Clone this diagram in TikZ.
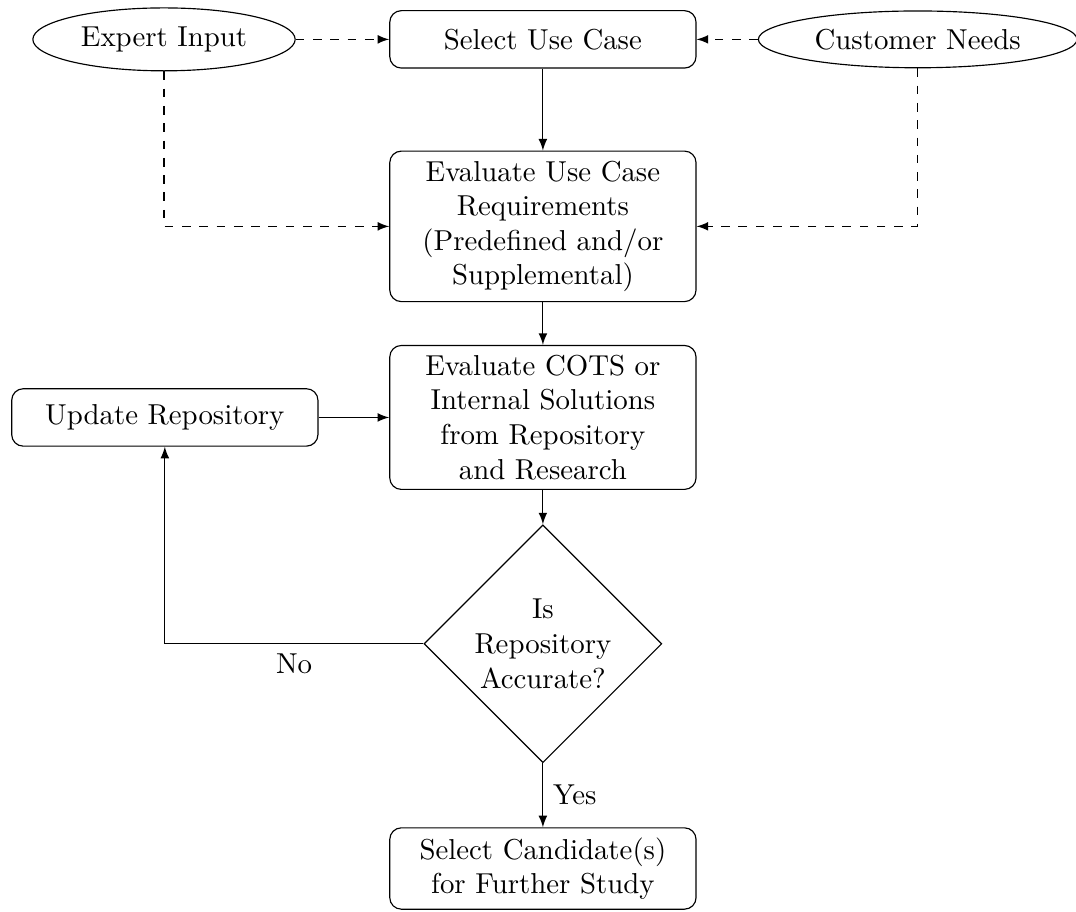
\documentclass[tikz,border=0pt]{standalone}
\usetikzlibrary{shapes.geometric}

\begin{document}
\begin{tikzpicture}[
  procbox/.style={draw, rounded corners, text width=3.5cm, align=center, minimum height=0.7cm},
  inputell/.style={draw, ellipse},
  decision/.style={draw, diamond, aspect=1, inner sep=0pt, minimum size=2.9cm, align=center},
  flow/.style={-latex},
  feed/.style={-latex, dashed}]

  \useasboundingbox (-6.62,0.48) rectangle (6.5,-10.63);

  \node[inputell] (expert) at (-4.62,0) {Expert Input};
  \node[procbox] (usecase) at (0,0) {Select Use Case};
  \node[inputell] (needs) at (4.57,0) {Customer Needs};

  \node[procbox] (reqs) at (0,-2.28) {Evaluate Use Case Requirements (Predefined and/or Supplemental)};
  \node[procbox] (cots) at (0,-4.61) {Evaluate COTS or Internal Solutions from Repository and Research};
  \node[procbox] (update) at (-4.61,-4.61) {Update Repository};
  \node[decision] (accurate) at (0,-7.37) {Is\\Repository\\Accurate?};
  \node[procbox] (candidates) at (0,-10.11) {Select Candidate(s) for Further Study};

  \draw[feed] (expert) -- (usecase);
  \draw[feed] (needs) -- (usecase);
  \draw[feed] (expert) |- (reqs);
  \draw[feed] (needs) |- (reqs);

  \draw[flow] (usecase) -- (reqs);
  \draw[flow] (reqs) -- (cots);
  \draw[flow] (update) -- (cots);
  \draw[flow] (cots) -- (accurate);
  \draw[flow] (accurate) -| node[near start, below] {No} (update);
  \draw[flow] (accurate) -- node[midway, right] {Yes} (candidates);

\end{tikzpicture}
\end{document}
